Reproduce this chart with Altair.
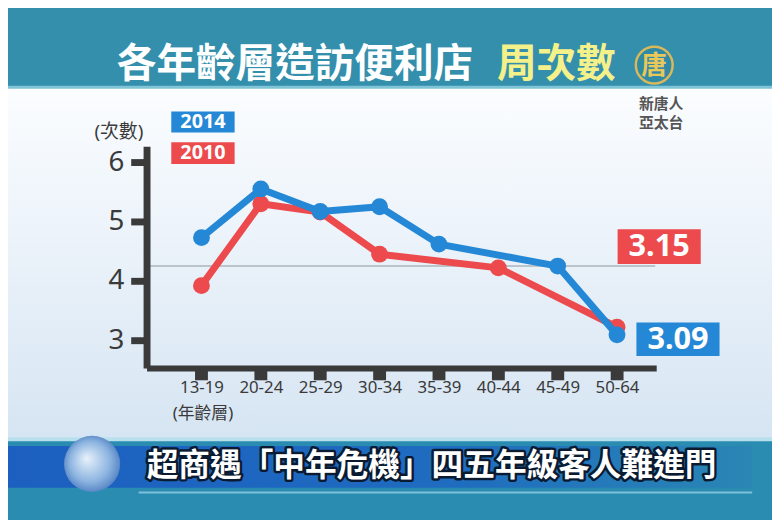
import altair as alt
import pandas as pd

# ---- data ----
ages = ["13-19", "20-24", "25-29", "30-34", "35-39", "40-44", "45-49", "50-64"]
years = ["2014", "2010"]
v2014 = [4.73, 5.55, 5.17, 5.25, 4.62, None, 4.25, 3.09]
v2010 = [3.92, 5.30, 5.16, 4.45, None, 4.22, None, 3.22]
end_labels = ["3.15", "3.09"]          # 2010, 2014
ref_value = 4.25
y_ticks = [3, 4, 5, 6]
title_main = "各年齡層造訪便利店"
title_hl = "周次數"
y_title = "(次數)"
x_title = "(年齡層)"
ticker = "超商遇「中年危機」四五年級客人難進門"
logo_lines = ["新唐人", "亞太台"]

rows = []
for yr, vals in zip(years, [v2014, v2010]):
    for i, (a, v) in enumerate(zip(ages, vals)):
        rows.append({"idx": i, "age": a, "year": yr, "value": v})
df = pd.DataFrame(rows)

BLUE = "#2488d6"
RED = "#ec4a4c"
AX = "#3a3a3a"
FONT = "Noto Sans, Noto Sans CJK TC"
CJK = "Noto Sans CJK TC"

one = pd.DataFrame({"k": [0]})

label_expr = "[" + ",".join("'%s'" % a for a in ages) + "][datum.value]"

xs = alt.Scale(domain=[-0.925, 7.66], nice=False, zero=False)
ys = alt.Scale(domain=[2.533, 6.27], nice=False, zero=False)

def deco_rect(x, x2, y, y2, fill):
    return alt.Chart(one).mark_rect(fill=fill, stroke=None).encode(
        x=alt.value(x), x2=alt.value(x2), y=alt.value(y), y2=alt.value(y2))

def deco_text(txt, x, y, size, color, align="center", weight="normal",
              font=CJK, stroke=None, sw=0):
    kw = dict(text=txt, align=align, baseline="middle", fontSize=size,
              fill=color, font=font, fontWeight=weight)
    if stroke:
        kw.update(stroke=stroke, strokeWidth=sw, strokeJoin="round")
    return alt.Chart(one).mark_text(**kw).encode(x=alt.value(x), y=alt.value(y))

# plot-relative offsets: ref (X, Y) -> (X-148, Y-145)
def px(X):
    return X - 148

def py(Y):
    return Y - 145

bg = alt.Chart(one).mark_rect(
    fill=alt.LinearGradient(
        gradient="linear",
        stops=[alt.GradientStop(color="#fbfdff", offset=0),
               alt.GradientStop(color="#e9f1f9", offset=0.5),
               alt.GradientStop(color="#d6e5f3", offset=1)],
        x1=0, x2=0, y1=0, y2=1)
).encode(x=alt.value(px(0)), x2=alt.value(px(790)),
         y=alt.value(py(86)), y2=alt.value(py(441)))

title_band = deco_rect(px(0), px(790), py(0), py(86), "#338fac")
title_edge = deco_rect(px(0), px(790), py(84), py(87), "#7fc3d6")
t1 = deco_text(title_main, px(118), py(63), 40, "#ffffff", align="left", weight="bold")
t2 = deco_text(title_hl, px(502), py(63), 40, "#f4f08a", align="left", weight="bold")

logo_c = alt.Chart(one).mark_circle(size=3.1416 * 21 * 21, fill="#2f8aa6",
                                    stroke="#d8b85a", strokeWidth=2.5, opacity=1).encode(
    x=alt.value(px(661)), y=alt.value(py(63)))
logo_t = deco_text("唐", px(661), py(64), 26, "#e8c85a", weight="bold")
logo_1 = deco_text(logo_lines[0], px(668), py(102), 15, "#555555", weight="bold")
logo_2 = deco_text(logo_lines[1], px(668), py(122), 15, "#555555", weight="bold")

# bottom ticker band
band = deco_rect(px(0), px(790), py(441), py(530), "#2a8cb0")
band_edge = deco_rect(px(0), px(790), py(439), py(443), "#b8e0ec")
stripe = alt.Chart(one).mark_rect(
    fill=alt.LinearGradient(
        gradient="linear",
        stops=[alt.GradientStop(color="#1c5fc0", offset=0),
               alt.GradientStop(color="#1f6cc0", offset=0.6),
               alt.GradientStop(color="#2a86b4", offset=1)],
        x1=0, x2=1, y1=0, y2=0)
).encode(x=alt.value(px(0)), x2=alt.value(px(760)),
         y=alt.value(py(448)), y2=alt.value(py(490)))
stripe_line = deco_rect(px(140), px(760), py(494), py(496), "#7fc0dc")
globe = alt.Chart(one).mark_circle(
    size=3.1416 * 32 * 32, opacity=1,
    fill=alt.RadialGradient(
        gradient="radial",
        stops=[alt.GradientStop(color="#e8f2fb", offset=0),
               alt.GradientStop(color="#8cb4e0", offset=0.6),
               alt.GradientStop(color="#3d6fb8", offset=1)],
        x1=0.4, y1=0.4, r1=0, x2=0.5, y2=0.5, r2=0.6)
).encode(x=alt.value(px(93)), y=alt.value(py(466)))
tk_shadow = deco_text(ticker, px(436), py(468), 32, "#0a1a30", weight="bold",
                      stroke="#0a1a30", sw=5)
tk = deco_text(ticker, px(436), py(468), 32, "#ffffff", weight="bold")

# legend boxes
leg_b = deco_rect(px(173), px(237), py(110), py(131), BLUE)
leg_r = deco_rect(px(173), px(237), py(141), py(163), RED)
leg_bt = deco_text(years[0], px(205), py(121), 20, "#ffffff", weight="bold", font=FONT)
leg_rt = deco_text(years[1], px(205), py(152), 20, "#ffffff", weight="bold", font=FONT)

ytitle = deco_text(y_title, px(120), py(131), 19, AX, font=FONT)
xtitle = deco_text(x_title, px(205), py(416), 17, AX, font=FONT)

# reference line
ref = alt.Chart(one).mark_rule(color="#aab4be", strokeWidth=1.5).encode(
    y=alt.datum(ref_value, scale=ys), x=alt.value(0), x2=alt.value(px(662)))

base = alt.Chart(df).transform_filter("isValid(datum.value)")

enc_x = alt.X("idx:Q", scale=xs,
              axis=alt.Axis(values=list(range(len(ages))), labelExpr=label_expr,
                            title=None, grid=False, domainColor=AX, domainWidth=6,
                            tickColor=AX, tickWidth=13, tickSize=12, labelFontSize=17,
                            labelColor=AX, labelFont=FONT, labelPadding=0, zindex=2))
enc_y = alt.Y("value:Q", scale=ys,
              axis=alt.Axis(values=y_ticks, format="d", title=None, grid=False,
                            domainColor=AX, domainWidth=7, tickColor=AX, tickWidth=7,
                            tickSize=16, labelFontSize=28, labelColor=AX, labelFont=FONT,
                            labelPadding=7, zindex=2))
color = alt.Color("year:N", scale=alt.Scale(domain=years, range=[BLUE, RED]), legend=None)

lines = []
points = []
for yr in reversed(years):  # 2010 first, 2014 on top
    sub = base.transform_filter(alt.datum.year == yr)
    lines.append(sub.mark_line(strokeWidth=7, strokeCap="round", strokeJoin="round").encode(
        x=enc_x, y=enc_y, color=color))
    points.append(sub.mark_circle(size=290, opacity=1).encode(
        x=enc_x, y=enc_y, color=color))

lab_r_box = deco_rect(px(624), px(708), py(229), py(264), RED)
lab_r = deco_text(end_labels[0], px(666), py(247), 31, "#ffffff", weight="bold", font=FONT)
lab_b_box = deco_rect(px(643), px(727), py(323), py(357), BLUE)
lab_b = deco_text(end_labels[1], px(685), py(341), 31, "#ffffff", weight="bold", font=FONT)

chart = alt.layer(
    bg, title_band, title_edge, t1, t2, logo_c, logo_t, logo_1, logo_2,
    band, band_edge, stripe, stripe_line, globe, tk_shadow, tk,
    ref, lines[0], points[0], lines[1], points[1],
    leg_b, leg_r, leg_bt, leg_rt, ytitle, xtitle,
    lab_r_box, lab_r, lab_b_box, lab_b,
).properties(
    width=515, height=224,
    padding={"left": 140, "top": 137, "right": 117, "bottom": 151},
    autosize=alt.AutoSizeParams(type="none"),
    background="#e6eef7",
).configure_view(stroke=None)

chart.save("out.html", embed_options={"renderer": "svg", "actions": False})
